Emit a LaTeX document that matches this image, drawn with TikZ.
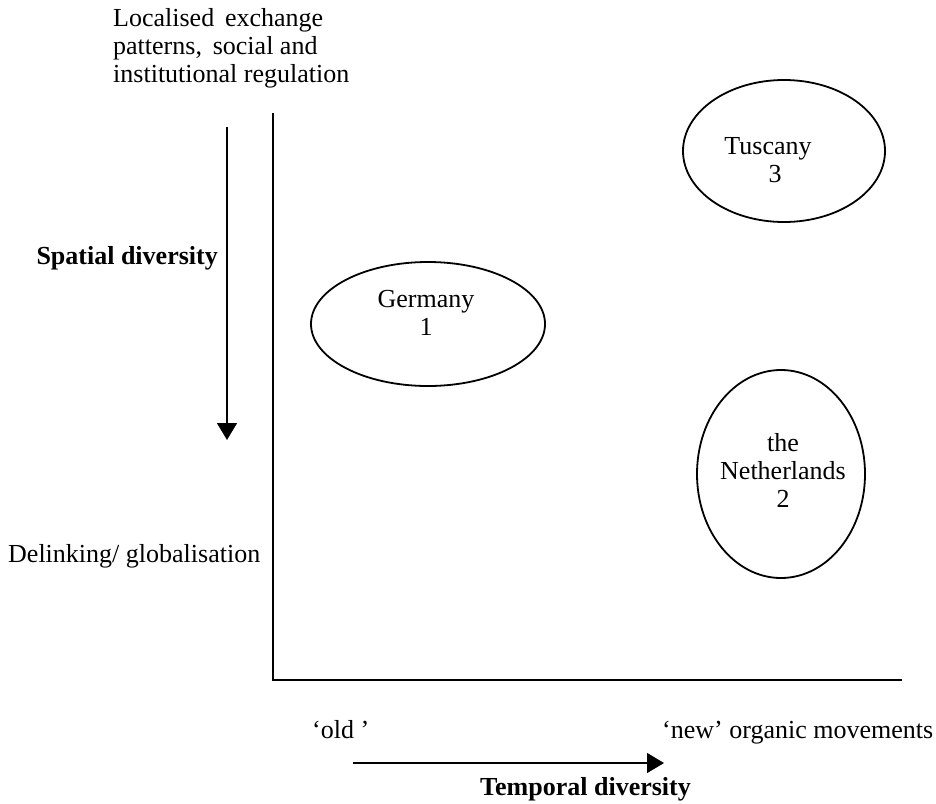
\documentclass[tikz,border=0pt]{standalone}
\usepackage{fontspec}
\setmainfont{Liberation Serif}
\usetikzlibrary{shapes.geometric,arrows.meta}
\begin{document}
\begin{tikzpicture}[x=1pt,y=-1pt,
  lbl/.style={inner sep=0pt,font=\fontsize{26}{28}\selectfont},
  blbl/.style={inner sep=0pt,font=\fontsize{26}{28}\selectfont\bfseries},
  oval/.style={draw,ellipse,line width=1.8pt,inner sep=0pt},
  axisline/.style={line width=1.4pt},
  dirarrow/.style={line width=1.4pt,-{Triangle[length=17pt,width=20pt]}}]
\useasboundingbox (0,0) rectangle (936,803);
% axes
\coordinate (ytop) at (273,113);
\coordinate (origin) at (273,680);
\coordinate (xend) at (902,680);
\draw[axisline] (ytop) -- (origin) -- (xend);
% top label (anchor base = baseline of the last line)
\node[lbl,anchor=base west,align=left] (toplbl) at (113,82) {Localised\, exchange\\patterns,\, social and\\institutional regulation};
% spatial arrow
\coordinate (sa) at (227,127);
\coordinate (sb) at (227,440);
\draw[dirarrow] (sa) -- (sb);
\node[blbl,anchor=base east] (spatial) at (218,264) {Spatial diversity};
\node[lbl,anchor=base west] (delink) at (8,562) {Delinking/ globalisation};
% ellipses
\node[oval,minimum width=234pt,minimum height=124pt] (germany) at (428,324) {};
\node[lbl,align=center,anchor=base] (germanyT) at (426,335) {Germany\\1};
\node[oval,minimum width=202pt,minimum height=142pt] (tuscany) at (784,151) {};
\node[lbl,align=center,anchor=base] (tuscanyT) at (768,182) {Tuscany\\\hspace*{14pt}3};
\node[oval,minimum width=168pt,minimum height=208pt] (nl) at (781,474) {};
\node[lbl,align=center,anchor=base] (nlT) at (783,507) {the\\Netherlands\\2};
% bottom
\node[lbl,anchor=base west] (old) at (312,738) {‘old ’};
\node[lbl,anchor=base west] (new) at (662,738) {‘new’ organic movements};
\coordinate (ta) at (353,763);
\coordinate (tb) at (664,763);
\draw[dirarrow] (ta) -- (tb);
\node[blbl,anchor=base west] (temporal) at (480,795) {Temporal diversity};
\end{tikzpicture}
\end{document}
